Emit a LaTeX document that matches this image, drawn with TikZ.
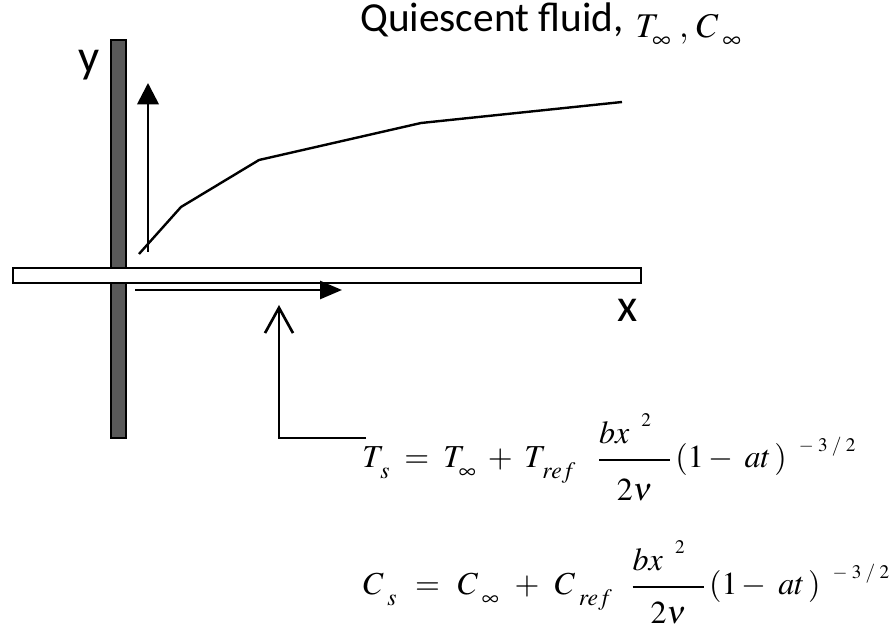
\documentclass[tikz,border=0pt]{standalone}
\usepackage{mathptmx}
\usepackage[no-math]{fontspec}
\newfontfamily\calibrifont{Carlito}
\usepackage{amsmath}
\usepackage{tikz}
\usetikzlibrary{arrows.meta}
\definecolor{wallgray}{HTML}{595959}
% low subscripts and high superscripts as in the original equations
\newcommand{\lsub}[1]{_{\raisebox{-4pt}{$\scriptstyle#1$}}}
\newcommand{\hsup}[1]{^{\hspace{9pt}\raisebox{4pt}{$\scriptscriptstyle#1$}}}

\begin{document}
\begin{tikzpicture}[x=0.75pt, y=-0.75pt,
    outline/.style={draw=black, line width=1.5pt},
    flowarrow/.style={line width=2pt, -{Triangle[length=16pt, width=16pt]}},
    axislabel/.style={font=\calibrifont\fontsize{35}{40}\selectfont, inner sep=0pt},
    eqn/.style={anchor=base west, inner sep=0pt, font=\fontsize{24}{28}\selectfont}]
    \useasboundingbox (0,0) rectangle (894,630);

    % wall and plate
    \draw[outline, fill=wallgray] (111,40) rectangle (126,438);
    \draw[outline, fill=white] (13,268) rectangle (641,283);

    % axis labels
    \node[axislabel, anchor=base] (ylab) at (89,73) {y};
    \node[axislabel, anchor=base] (xlab) at (628,322) {x};

    % quiescent fluid far away
    \node[anchor=base west, inner sep=0pt, font=\calibrifont\fontsize{31}{34}\selectfont]
      (fluid) at (360,32) {Quiescent fluid,\hspace{9pt}\raisebox{-4pt}{\fontsize{26}{28}\selectfont
        $T\lsub{\infty}\;,\,C\lsub{\;\infty}$}};

    % velocity arrows along y and x
    \coordinate (vbot) at (148,252);
    \coordinate (vtop) at (148,83);
    \coordinate (ubeg) at (135,290);
    \coordinate (uend) at (342,290);
    \draw[flowarrow] (vbot) -- (vtop);
    \draw[line width=2pt, -{Triangle[length=16.5pt, width=13.5pt]}] (ubeg) -- (uend);

    % boundary layer edge
    \draw[line width=1.8pt] (139,254) -- (181,207) -- (259,160) -- (421,123) -- (622,102);

    % pointer from the plate condition
    \coordinate (ptail) at (366,438);
    \coordinate (pcorner) at (279,438);
    \coordinate (ptip) at (279,305);
    \draw[line width=2pt, -{Straight Barb[length=19pt, width=21pt]}]
      (ptail) -- (pcorner) -- (ptip);

    % surface temperature and concentration
    \node[eqn] (tsurf) at (362,468)
      {$T\lsub{\,s}\;=\;T\lsub{\infty}\;+\;T\lsub{\,ref}\hspace{16pt}
        \dfrac{bx\hsup{2}\hspace{14pt}\rule[-9pt]{0pt}{9pt}}{\rule{0pt}{27pt}2\nu}\,(1-\;at\,)\hsup{-\;3\;/\;2}$};
    \node[eqn] (csurf) at (363,595)
      {$C\lsub{\;s}\;\,=\;\,C\lsub{\;\infty}\;\,+\;\,C\lsub{\;ref}\hspace{14pt}
        \dfrac{bx\hsup{2}\hspace{14pt}\rule[-9pt]{0pt}{9pt}}{\rule{0pt}{24pt}2\nu}\,(1-\;at\,)\hsup{-\;3\;/\;2}$};
\end{tikzpicture}
\end{document}
